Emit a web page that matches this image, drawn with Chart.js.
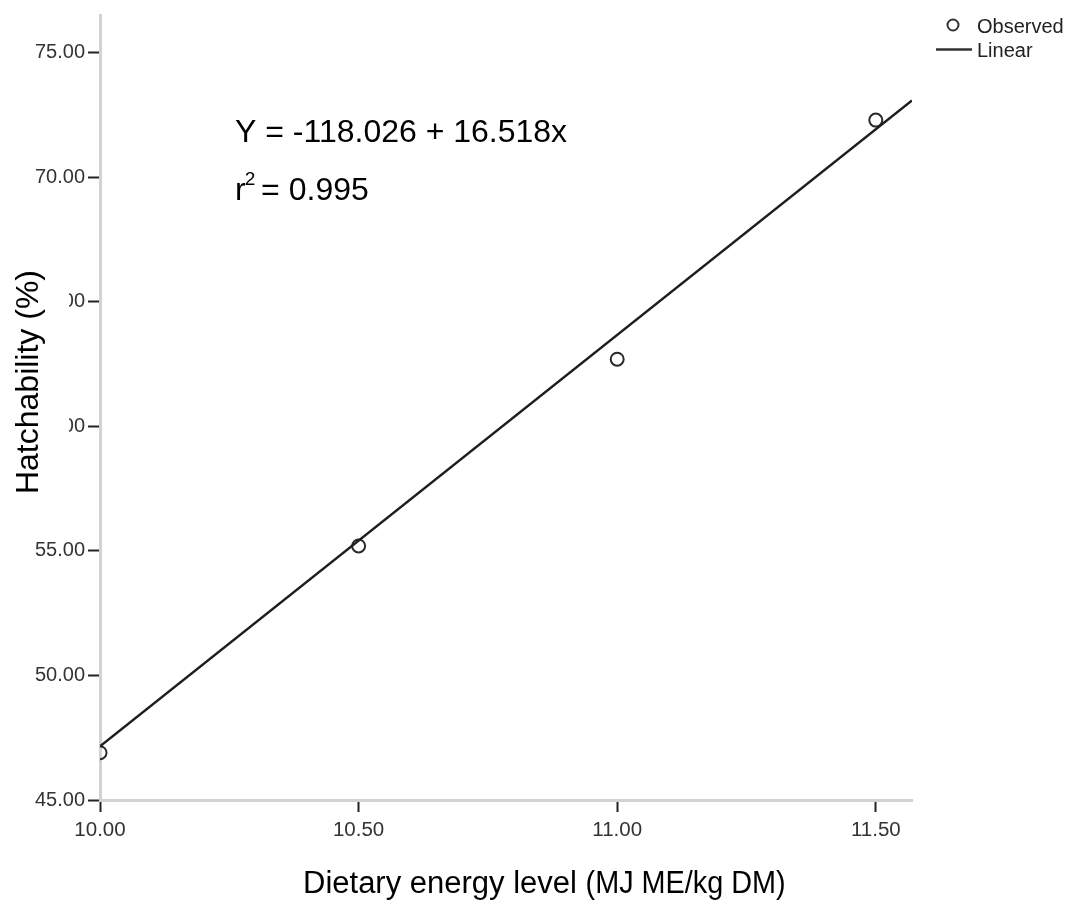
<!DOCTYPE html>
<html>
<head>
<meta charset="utf-8">
<title>Hatchability vs dietary energy</title>
<script src="https://cdn.jsdelivr.net/npm/chart.js@4/dist/chart.umd.min.js"></script>
<style>
  html, body { margin: 0; padding: 0; background: #fff; }
  #wrap { width: 1074px; height: 905px; }
</style>
</head>
<body>
<div id="wrap"><canvas id="chart"></canvas></div>
<script>
// observed values
var energy = [10.0, 10.5, 11.0, 11.5]
var hatch = [46.9, 55.2, 62.7, 72.3]

// fitted line as printed on the figure
var fitIntercept = -118.026
var fitSlope = 16.518
var fitR2 = 0.995
var fitRange = [10.0, 11.57]

// axis ticks
var xTicks = [10.0, 10.5, 11.0, 11.5]
var yTicks = [45, 50, 55, 60, 65, 70, 75]

var FONT = '"Liberation Sans", Arial, sans-serif'

var fitLine = fitRange.map(function(x){ return {x: x, y: fitIntercept + fitSlope * x} })
var observed = energy.map(function(x, i){ return {x: x, y: hatch[i]} })

var overlay = {
  id: 'overlay',
  afterDraw: function(chart){
    var ctx = chart.ctx
    ctx.save()
    ctx.fillStyle = '#000'
    ctx.textAlign = 'left'
    ctx.textBaseline = 'alphabetic'

    // equation
    ctx.font = '32px ' + FONT
    var eq = 'Y = ' + fitIntercept.toFixed(3) + ' + ' + fitSlope.toFixed(3) + 'x'
    ctx.fillText(eq, 235, 142)
    ctx.fillText('r', 235, 200)
    var rw = ctx.measureText('r').width
    ctx.font = '19px ' + FONT
    ctx.fillText('2', 235 + rw - 1, 185)
    var w2 = ctx.measureText('2').width
    ctx.font = '32px ' + FONT
    ctx.fillText(' = ' + fitR2.toFixed(3), 235 + rw + w2 - 4, 200)

    // y title (its box hides part of the tick labels, as in the figure)
    ctx.fillStyle = '#fff'
    ctx.fillRect(0, 255, 69, 250)
    ctx.fillStyle = '#000'
    ctx.font = '32px ' + FONT
    ctx.translate(38, 382)
    ctx.rotate(-Math.PI / 2)
    ctx.textAlign = 'center'
    ctx.fillText('Hatchability (%)', 0, 0)
    ctx.setTransform(1, 0, 0, 1, 0, 0)

    // x title
    ctx.textAlign = 'left'
    ctx.font = '31px ' + FONT
    var part1 = 'Dietary energy level '
    ctx.fillText(part1, 303, 893)
    var p1w = ctx.measureText(part1).width
    ctx.save()
    ctx.translate(303 + p1w, 893)
    ctx.scale(0.9, 1)
    ctx.font = '32px ' + FONT
    ctx.fillText('(MJ ME/kg DM)', 0, 0)
    ctx.restore()

    // legend
    ctx.strokeStyle = '#333'
    ctx.lineWidth = 2
    ctx.beginPath()
    ctx.arc(953, 25, 5.5, 0, Math.PI * 2)
    ctx.stroke()
    ctx.beginPath()
    ctx.moveTo(936, 49.5)
    ctx.lineTo(972, 49.5)
    ctx.lineWidth = 2.5
    ctx.stroke()
    ctx.fillStyle = '#222'
    ctx.font = '20px ' + FONT
    ctx.textBaseline = 'middle'
    ctx.fillText('Observed', 977, 27)
    ctx.fillText('Linear', 977, 51)
    ctx.restore()
  }
}

new Chart(document.getElementById('chart'), {
  type: 'scatter',
  data: {
    datasets: [
      {
        label: 'Linear',
        type: 'line',
        data: fitLine,
        borderColor: '#1e1e1e',
        borderWidth: 2.5,
        pointRadius: 0,
        fill: false
      },
      {
        label: 'Observed',
        data: observed,
        pointRadius: 6.5,
        pointHoverRadius: 6.5,
        pointBorderWidth: 2,
        pointBorderColor: '#2a2a2a',
        pointBackgroundColor: 'rgba(0,0,0,0)'
      }
    ]
  },
  options: {
    responsive: true,
    maintainAspectRatio: false,
    animation: false,
    events: [],
    layout: { padding: { left: 0, top: 12, right: 162, bottom: 0 } },
    plugins: {
      legend: { display: false },
      tooltip: { enabled: false }
    },
    scales: {
      x: {
        type: 'linear',
        min: 10,
        max: 11.57,
        afterBuildTicks: function(s){ s.ticks = xTicks.map(function(v){ return {value: v} }) },
        afterFit: function(s){ s.height = 105 },
        border: { display: true, color: '#d2d2d2', width: 3 },
        grid: { drawOnChartArea: false, drawTicks: true, tickLength: 12, tickColor: '#222', tickWidth: 2 },
        ticks: {
          padding: 6,
          color: '#333',
          font: { family: FONT, size: 20.5 },
          maxRotation: 0,
          callback: function(v){ return Number(v).toFixed(2) }
        }
      },
      y: {
        type: 'linear',
        min: 45,
        max: 76.52,
        afterBuildTicks: function(s){ s.ticks = yTicks.map(function(v){ return {value: v} }) },
        afterFit: function(s){ s.width = 100 },
        border: { display: true, color: '#d2d2d2', width: 3 },
        grid: { drawOnChartArea: false, drawTicks: true, tickLength: 12, tickColor: '#222', tickWidth: 2 },
        ticks: {
          padding: 3,
          color: '#333',
          font: { family: FONT, size: 20 },
          callback: function(v){ return Number(v).toFixed(2) }
        }
      }
    }
  },
  plugins: [overlay]
})
</script>
</body>
</html>
